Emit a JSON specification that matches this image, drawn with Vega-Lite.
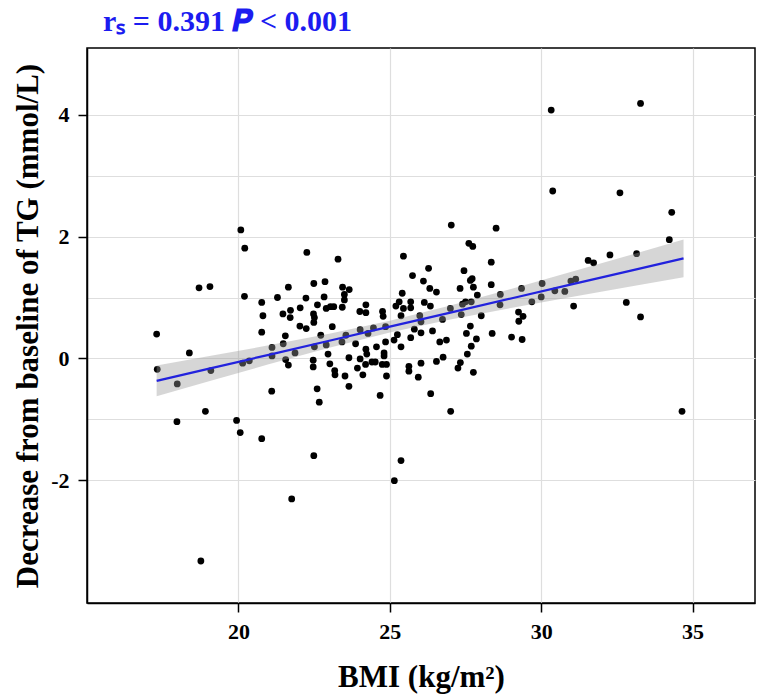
{
  "$schema": "https://vega.github.io/schema/vega-lite/v6.json",
  "width": 668,
  "height": 555,
  "autosize": {"type": "none"},
  "padding": {"left": 87, "top": 48, "right": 3, "bottom": 94},
  "background": "white",
  "title": {
    "text": "rₛ = 0.391 𝑷 < 0.001",
    "anchor": "start",
    "frame": "group",
    "dx": 16,
    "dy": 28,
    "offset": 15,
    "baseline": "alphabetic",
    "font": "Liberation Serif",
    "fontSize": 30,
    "fontWeight": "bold",
    "color": "#1c1cf0"
  },
  "config": {
    "view": {"stroke": "black", "strokeWidth": 1.5},
    "axis": {
      "labelFont": "Liberation Serif",
      "labelFontWeight": "bold",
      "labelFontSize": 22,
      "labelColor": "black",
      "titleFont": "Liberation Serif",
      "titleFontWeight": "bold",
      "titleFontSize": 31,
      "titleColor": "black",
      "domainColor": "black",
      "domainWidth": 1.5,
      "tickColor": "black",
      "tickWidth": 1.5,
      "tickSize": 9,
      "labelPadding": 9,
      "gridColor": "#dedede",
      "gridWidth": 1.2
    }
  },
  "datasets": {
    "pts": [
      {"bmi": 20.08, "tg": 2.11}, {"bmi": 20.21, "tg": 1.81}, {"bmi": 18.70, "tg": 1.16}, {"bmi": 19.06, "tg": 1.18},
      {"bmi": 20.20, "tg": 1.02}, {"bmi": 17.30, "tg": 0.40}, {"bmi": 18.38, "tg": 0.09}, {"bmi": 17.32, "tg": -0.18},
      {"bmi": 17.98, "tg": -0.42}, {"bmi": 19.09, "tg": -0.20}, {"bmi": 20.14, "tg": -0.08}, {"bmi": 20.36, "tg": -0.04},
      {"bmi": 18.91, "tg": -0.87}, {"bmi": 17.97, "tg": -1.04}, {"bmi": 19.94, "tg": -1.02}, {"bmi": 20.06, "tg": -1.22},
      {"bmi": 18.76, "tg": -3.33},
      {"bmi": 22.26, "tg": 1.74}, {"bmi": 23.29, "tg": 1.63}, {"bmi": 21.65, "tg": 1.17}, {"bmi": 22.49, "tg": 1.23},
      {"bmi": 22.86, "tg": 1.26}, {"bmi": 23.44, "tg": 1.17}, {"bmi": 23.66, "tg": 1.13}, {"bmi": 20.77, "tg": 0.92},
      {"bmi": 21.29, "tg": 1.00}, {"bmi": 22.23, "tg": 0.99}, {"bmi": 22.83, "tg": 1.01}, {"bmi": 23.50, "tg": 1.05},
      {"bmi": 23.50, "tg": 0.96}, {"bmi": 22.61, "tg": 0.88}, {"bmi": 22.04, "tg": 0.83}, {"bmi": 21.72, "tg": 0.79},
      {"bmi": 21.47, "tg": 0.73}, {"bmi": 20.81, "tg": 0.70}, {"bmi": 21.71, "tg": 0.67}, {"bmi": 22.48, "tg": 0.73},
      {"bmi": 22.51, "tg": 0.67}, {"bmi": 22.90, "tg": 0.82}, {"bmi": 23.04, "tg": 0.85}, {"bmi": 23.15, "tg": 0.85},
      {"bmi": 23.43, "tg": 0.84}, {"bmi": 24.01, "tg": 0.77}, {"bmi": 24.21, "tg": 0.88}, {"bmi": 24.21, "tg": 0.75},
      {"bmi": 24.76, "tg": 0.77}, {"bmi": 24.78, "tg": 0.69},
      {"bmi": 20.77, "tg": 0.43}, {"bmi": 22.03, "tg": 0.53}, {"bmi": 22.24, "tg": 0.49}, {"bmi": 22.49, "tg": 0.59},
      {"bmi": 23.10, "tg": 0.52}, {"bmi": 21.55, "tg": 0.37}, {"bmi": 22.72, "tg": 0.38}, {"bmi": 21.48, "tg": 0.24},
      {"bmi": 21.11, "tg": 0.18}, {"bmi": 21.11, "tg": 0.04}, {"bmi": 21.87, "tg": 0.09}, {"bmi": 22.51, "tg": 0.19},
      {"bmi": 22.90, "tg": 0.22}, {"bmi": 23.42, "tg": 0.27}, {"bmi": 23.55, "tg": 0.38}, {"bmi": 23.87, "tg": 0.24},
      {"bmi": 24.02, "tg": 0.47}, {"bmi": 24.28, "tg": 0.41}, {"bmi": 24.46, "tg": 0.50}, {"bmi": 24.86, "tg": 0.52},
      {"bmi": 24.86, "tg": 0.27}, {"bmi": 24.56, "tg": 0.19}, {"bmi": 24.21, "tg": 0.15}, {"bmi": 24.24, "tg": 0.07},
      {"bmi": 24.81, "tg": 0.09}, {"bmi": 24.81, "tg": 0.04}, {"bmi": 21.56, "tg": -0.02}, {"bmi": 21.65, "tg": -0.11},
      {"bmi": 22.47, "tg": -0.03}, {"bmi": 22.47, "tg": -0.14}, {"bmi": 22.96, "tg": 0.07}, {"bmi": 23.02, "tg": -0.09},
      {"bmi": 23.18, "tg": -0.20}, {"bmi": 23.19, "tg": -0.27}, {"bmi": 23.52, "tg": -0.29}, {"bmi": 23.65, "tg": 0.01},
      {"bmi": 23.65, "tg": -0.46}, {"bmi": 23.93, "tg": -0.16}, {"bmi": 24.02, "tg": -0.01}, {"bmi": 24.11, "tg": -0.27},
      {"bmi": 24.20, "tg": -0.10}, {"bmi": 24.41, "tg": -0.06}, {"bmi": 24.52, "tg": -0.06}, {"bmi": 24.75, "tg": -0.10},
      {"bmi": 24.89, "tg": -0.10}, {"bmi": 24.89, "tg": -0.29}, {"bmi": 21.10, "tg": -0.54}, {"bmi": 22.60, "tg": -0.50},
      {"bmi": 22.67, "tg": -0.72}, {"bmi": 24.68, "tg": -0.61},
      {"bmi": 20.77, "tg": -1.32}, {"bmi": 22.49, "tg": -1.60}, {"bmi": 21.76, "tg": -2.31},
      {"bmi": 27.03, "tg": 2.19}, {"bmi": 28.51, "tg": 2.14}, {"bmi": 27.61, "tg": 1.89}, {"bmi": 27.74, "tg": 1.84},
      {"bmi": 25.45, "tg": 1.68}, {"bmi": 28.35, "tg": 1.58}, {"bmi": 26.28, "tg": 1.48}, {"bmi": 27.45, "tg": 1.44},
      {"bmi": 25.75, "tg": 1.36}, {"bmi": 26.11, "tg": 1.27}, {"bmi": 27.66, "tg": 1.28}, {"bmi": 27.72, "tg": 1.31},
      {"bmi": 26.32, "tg": 1.15}, {"bmi": 26.54, "tg": 1.09}, {"bmi": 27.32, "tg": 1.15}, {"bmi": 27.76, "tg": 1.17},
      {"bmi": 28.35, "tg": 1.21}, {"bmi": 27.89, "tg": 1.04}, {"bmi": 25.41, "tg": 1.07}, {"bmi": 25.31, "tg": 0.93},
      {"bmi": 25.20, "tg": 0.86}, {"bmi": 25.69, "tg": 0.93}, {"bmi": 25.69, "tg": 0.83}, {"bmi": 25.45, "tg": 0.82},
      {"bmi": 26.14, "tg": 0.92}, {"bmi": 26.34, "tg": 0.86}, {"bmi": 27.00, "tg": 0.82}, {"bmi": 27.40, "tg": 0.89},
      {"bmi": 27.50, "tg": 0.93}, {"bmi": 27.69, "tg": 0.93}, {"bmi": 27.36, "tg": 0.72}, {"bmi": 28.02, "tg": 0.70},
      {"bmi": 28.65, "tg": 1.05}, {"bmi": 28.64, "tg": 0.88}, {"bmi": 29.35, "tg": 1.15}, {"bmi": 29.25, "tg": 0.76},
      {"bmi": 29.40, "tg": 0.69}, {"bmi": 25.37, "tg": 0.70}, {"bmi": 25.99, "tg": 0.70}, {"bmi": 26.74, "tg": 0.64},
      {"bmi": 26.03, "tg": 0.60}, {"bmi": 29.26, "tg": 0.61}, {"bmi": 25.25, "tg": 0.39}, {"bmi": 25.14, "tg": 0.30},
      {"bmi": 25.37, "tg": 0.19}, {"bmi": 25.69, "tg": 0.34}, {"bmi": 25.81, "tg": 0.48}, {"bmi": 26.03, "tg": 0.42},
      {"bmi": 26.41, "tg": 0.45}, {"bmi": 26.65, "tg": 0.27}, {"bmi": 26.87, "tg": 0.30}, {"bmi": 27.53, "tg": 0.41},
      {"bmi": 27.66, "tg": 0.53}, {"bmi": 27.86, "tg": 0.32}, {"bmi": 27.69, "tg": 0.20}, {"bmi": 27.56, "tg": 0.07},
      {"bmi": 27.33, "tg": -0.07}, {"bmi": 27.25, "tg": -0.16}, {"bmi": 27.76, "tg": -0.23}, {"bmi": 28.38, "tg": 0.41},
      {"bmi": 29.02, "tg": 0.35}, {"bmi": 29.37, "tg": 0.31}, {"bmi": 26.76, "tg": 0.02}, {"bmi": 26.54, "tg": -0.05},
      {"bmi": 26.03, "tg": -0.08}, {"bmi": 25.63, "tg": -0.13}, {"bmi": 25.63, "tg": -0.21}, {"bmi": 25.94, "tg": -0.31},
      {"bmi": 26.35, "tg": -0.58}, {"bmi": 27.01, "tg": -0.87}, {"bmi": 25.37, "tg": -1.68}, {"bmi": 25.15, "tg": -2.01},
      {"bmi": 30.33, "tg": 4.08}, {"bmi": 33.28, "tg": 4.19}, {"bmi": 30.38, "tg": 2.75}, {"bmi": 32.60, "tg": 2.72},
      {"bmi": 34.31, "tg": 2.40}, {"bmi": 34.23, "tg": 1.95}, {"bmi": 33.15, "tg": 1.72}, {"bmi": 32.27, "tg": 1.70},
      {"bmi": 31.55, "tg": 1.61}, {"bmi": 31.73, "tg": 1.57}, {"bmi": 31.14, "tg": 1.30}, {"bmi": 30.98, "tg": 1.27},
      {"bmi": 30.03, "tg": 1.23}, {"bmi": 30.45, "tg": 1.11}, {"bmi": 30.78, "tg": 1.10}, {"bmi": 30.00, "tg": 1.01},
      {"bmi": 29.69, "tg": 0.93}, {"bmi": 31.07, "tg": 0.86}, {"bmi": 32.81, "tg": 0.92}, {"bmi": 33.28, "tg": 0.68},
      {"bmi": 34.65, "tg": -0.87}
    ],
    "fit": [
      {"bmi": 17.3, "fit": -0.370, "lo": -0.624, "hi": -0.116},
      {"bmi": 19.0, "fit": -0.173, "lo": -0.380, "hi": 0.034},
      {"bmi": 21.0, "fit": 0.058, "lo": -0.098, "hi": 0.214},
      {"bmi": 23.0, "fit": 0.290, "lo": 0.175, "hi": 0.405},
      {"bmi": 25.0, "fit": 0.521, "lo": 0.424, "hi": 0.618},
      {"bmi": 27.0, "fit": 0.752, "lo": 0.637, "hi": 0.867},
      {"bmi": 29.0, "fit": 0.984, "lo": 0.828, "hi": 1.140},
      {"bmi": 31.0, "fit": 1.215, "lo": 1.008, "hi": 1.422},
      {"bmi": 33.0, "fit": 1.446, "lo": 1.184, "hi": 1.708},
      {"bmi": 34.7, "fit": 1.643, "lo": 1.332, "hi": 1.954}
    ]
  },
  "layer": [
    {
      "data": {"name": "pts"},
      "mark": {"type": "circle", "color": "black", "size": 46, "opacity": 1},
      "encoding": {
        "x": {
          "field": "bmi", "type": "quantitative",
          "scale": {"domain": [15.0, 37.06], "nice": false, "zero": false},
          "axis": {"title": "BMI (kg/m²)", "values": [20, 25, 30, 35], "titlePadding": 20}
        },
        "y": {
          "field": "tg", "type": "quantitative",
          "scale": {"domain": [-4.02, 5.10], "nice": false, "zero": false},
          "axis": {
            "title": "Decrease from baseline of TG (mmol/L)",
            "values": [-2, -1, 0, 1, 2, 3, 4],
            "labelExpr": "datum.value % 2 ? '' : '' + datum.value",
            "tickOpacity": {"condition": {"test": "datum.value % 2 !== 0", "value": 0}, "value": 1},
            "titlePadding": 6
          }
        }
      }
    },
    {
      "data": {"name": "fit"},
      "mark": {"type": "area", "color": "#999999", "opacity": 0.4},
      "encoding": {
        "x": {"field": "bmi", "type": "quantitative"},
        "y": {"field": "lo", "type": "quantitative"},
        "y2": {"field": "hi"}
      }
    },
    {
      "data": {"name": "fit"},
      "mark": {"type": "line", "color": "#2222dd", "strokeWidth": 2.2},
      "encoding": {
        "x": {"field": "bmi", "type": "quantitative"},
        "y": {"field": "fit", "type": "quantitative"}
      }
    }
  ]
}
